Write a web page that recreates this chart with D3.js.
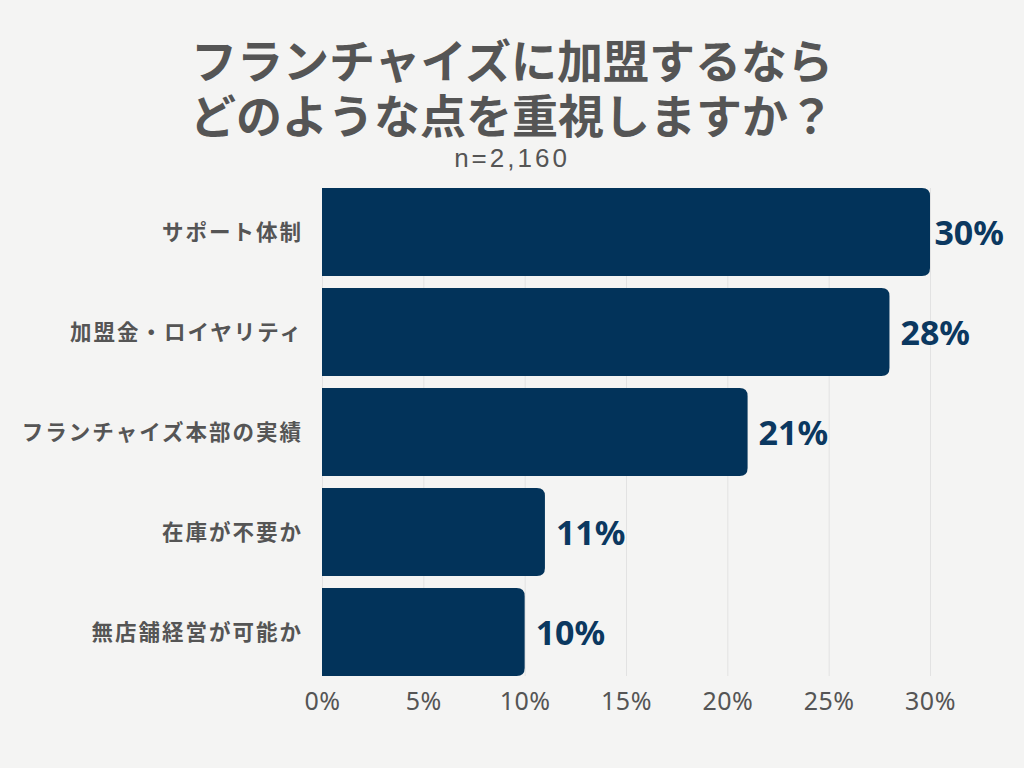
<!DOCTYPE html>
<html lang="ja"><head><meta charset="utf-8">
<script src="https://cdn.jsdelivr.net/npm/d3@7"></script>
<style>
html,body{margin:0;padding:0;background:#f4f4f3;}
svg{display:block;}
</style></head>
<body>
<script>
const titleLines = ["フランチャイズに加盟するなら", "どのような点を重視しますか？"];
const subtitle = "n=2,160";
const categories = ["サポート体制", "加盟金・ロイヤリティ", "フランチャイズ本部の実績", "在庫が不要か", "無店舗経営が可能か"];
const values = [30, 28, 21, 11, 10];
const tickValues = [0, 5, 10, 15, 20, 25, 30];

const W = 1024, H = 768;
const svg = d3.select("body").append("svg").attr("width", W).attr("height", H);
svg.append("rect").attr("width", W).attr("height", H).attr("fill", "#f4f4f3");

const x = d3.scaleLinear().domain([0, 30]).range([322, 930]);
const y = d3.scaleBand().domain(categories).range([188, 676]).paddingInner(0.12).paddingOuter(0);

const jp = "'Noto Sans CJK JP', 'Noto Sans', sans-serif";
const titleFont = "'Liberation Sans', 'Noto Sans CJK JP', sans-serif";

// title
svg.selectAll("text.title").data(titleLines).enter().append("text")
  .attr("class", "title")
  .attr("x", 512).attr("y", (d, i) => 78 + i * 55)
  .attr("text-anchor", "middle")
  .attr("font-family", titleFont).attr("font-weight", 700).attr("font-size", 46)
  .attr("fill", "#555555").text(d => d);

svg.append("text").attr("x", 512).attr("y", 167).attr("text-anchor", "middle")
  .attr("font-family", "'Liberation Sans', sans-serif").attr("font-size", 26).attr("letter-spacing", 3)
  .attr("fill", "#555555").text(subtitle);

// grid
const gridTop = y(categories[0]), gridBottom = y(categories[categories.length - 1]) + y.bandwidth();
svg.append("g").selectAll("line").data(tickValues).enter().append("line")
  .attr("x1", d => x(d) + 0.5).attr("x2", d => x(d) + 0.5)
  .attr("y1", gridTop).attr("y2", gridBottom)
  .attr("stroke", "#e2e2e2").attr("stroke-width", 1);

// bars with rounded right corners
const r = 8;
function barPath(x0, x1, y0, h) {
  return `M${x0},${y0}H${x1 - r}Q${x1},${y0} ${x1},${y0 + r}V${y0 + h - r}Q${x1},${y0 + h} ${x1 - r},${y0 + h}H${x0}Z`;
}
svg.append("g").selectAll("path").data(categories).enter().append("path")
  .attr("d", (d, i) => barPath(x(0), x(values[i]), y(d), y.bandwidth()))
  .attr("fill", "#02335a");

// value labels
svg.append("g").selectAll("text").data(categories).enter().append("text")
  .attr("x", (d, i) => x(values[i]) + 11)
  .attr("y", d => y(d) + y.bandwidth() / 2 + 13)
  .attr("font-family", "'Noto Sans', sans-serif").attr("font-weight", 700).attr("font-size", 34)
  .attr("fill", "#0b3860")
  .text((d, i) => values[i] + "%")
  .each(function () {
    const len = this.getComputedTextLength();
    const cur = +d3.select(this).attr("x");
    if (cur + len > 1004) d3.select(this).attr("x", 1004 - len);
  });

// category labels
svg.append("g").selectAll("text").data(categories).enter().append("text")
  .attr("x", 303).attr("y", d => y(d) + y.bandwidth() / 2 + 8)
  .attr("text-anchor", "end")
  .attr("font-family", jp).attr("font-weight", 700).attr("font-size", 21.5).attr("letter-spacing", 2)
  .attr("fill", "#555555").text(d => d);

// x axis
const axis = d3.axisBottom(x).tickValues(tickValues).tickFormat(d => d + "%").tickSize(0).tickPadding(0);
const ag = svg.append("g").attr("transform", `translate(0,${gridBottom})`).call(axis);
ag.select(".domain").remove();
ag.selectAll("text").attr("dy", 0).attr("y", 34)
  .attr("font-family", "'Noto Sans', sans-serif").attr("font-size", 25).attr("letter-spacing", 0.5)
  .attr("fill", "#555555");
</script>
</body></html>
